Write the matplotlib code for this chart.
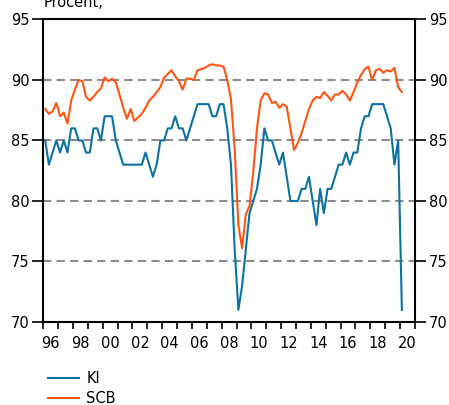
import numpy as np
import matplotlib
matplotlib.use("Agg")
import matplotlib.pyplot as plt
from matplotlib.ticker import FixedLocator, NullFormatter, FixedFormatter

# quarterly data, 1996Q1 - 2020Q1
years = np.arange(1996, 2021)

ki = [85, 83, 84, 85,
      84, 85, 84, 86,
      86, 85, 85, 84,
      84, 86, 86, 85,
      87, 87, 87, 85,
      84, 83, 83, 83,
      83, 83, 83, 84,
      83, 82, 83, 85,
      85, 86, 86, 87,
      86, 86, 85, 86,
      87, 88, 88, 88,
      88, 87, 87, 88,
      88, 86, 83, 76,
      71, 73, 76, 79,
      80, 81, 83, 86,
      85, 85, 84, 83,
      84, 82, 80, 80,
      80, 81, 81, 82,
      80, 78, 81, 79,
      81, 81, 82, 83,
      83, 84, 83, 84,
      84, 86, 87, 87,
      88, 88, 88, 88,
      87, 86, 83, 85,
      71]

scb = [87.6, 87.2, 87.4, 88.1,
       87.0, 87.3, 86.4, 88.3,
       89.2, 90.0, 89.9, 88.6,
       88.3, 88.6, 89.0, 89.3,
       90.2, 89.9, 90.1, 89.8,
       88.8, 87.7, 86.8, 87.6,
       86.6, 86.9, 87.2, 87.7,
       88.3, 88.6, 89.0, 89.4,
       90.2, 90.5, 90.8, 90.3,
       89.9, 89.2, 90.1, 90.1,
       90.0, 90.8, 90.9, 91.0,
       91.2, 91.3, 91.2, 91.2,
       91.1, 90.0, 88.4, 84.3,
       78.0, 76.1, 78.9, 79.6,
       82.4, 86.0, 88.3, 88.9,
       88.8, 88.1, 88.2, 87.7,
       88.0, 87.8, 86.0, 84.2,
       84.8, 85.6, 86.6, 87.6,
       88.3, 88.6, 88.5, 89.0,
       88.7, 88.3, 88.8, 88.8,
       89.1, 88.8, 88.3, 89.0,
       89.8, 90.4, 90.9, 91.1,
       90.0, 90.8, 90.9, 90.6,
       90.8, 90.7, 91.0, 89.4,
       89.0]

year_labels = ["96", "98", "00", "02", "04", "06", "08", "10",
               "12", "14", "16", "18", "20"]

# x position of each quarter (mid-quarter)
quarter_year = np.repeat(years, 4)[:len(ki)]
quarter_num = np.tile([1, 2, 3, 4], len(years))[:len(ki)]
x = quarter_year + (quarter_num - 0.5) / 4

plt.rcParams['font.family'] = ['DejaVu Sans']
plt.rcParams['font.size'] = 10.5

fig = plt.figure(figsize=(4.49, 4.05), dpi=100)
ax = fig.add_axes([0.0965, 0.205, 0.8275, 0.747])

for v in [75, 80, 85, 90]:
    ax.axhline(v, color='#8c8c8c', lw=1.5, ls=(0, (4, 2.5)), zorder=1)

ax.plot(x, ki, color='#0b72a3', lw=1.5, label='KI', zorder=3)
ax.plot(x, scb, color='#ff5511', lw=1.5, label='SCB', zorder=3)

ax.set_xlim(1996, 2021)
ax.set_ylim(70, 95)
ax.set_yticks([70, 75, 80, 85, 90, 95])

# yearly ticks without labels, labels centred in even years
ax.xaxis.set_major_locator(FixedLocator(np.arange(1996, 2022)))
ax.xaxis.set_major_formatter(NullFormatter())
ax.xaxis.set_minor_locator(FixedLocator(np.arange(1996, 2021, 2) + 0.5))
ax.xaxis.set_minor_formatter(FixedFormatter(year_labels))
ax.tick_params(axis='x', which='major', direction='out', length=5, width=1.2)
ax.tick_params(axis='x', which='minor', length=0, pad=10, labelsize=10.5)
ax.tick_params(axis='y', which='major', direction='out', length=8, width=1.2,
               pad=2, right=True, labelright=True)

for s in ax.spines.values():
    s.set_linewidth(1.5)
    s.set_color('black')

fig.text(0.098, 0.983, "Procent,", fontsize=10.5, ha='left', va='baseline')

ax.legend(loc='upper left', bbox_to_anchor=(0.108, 0.083),
          bbox_transform=fig.transFigure, frameon=False,
          handlelength=2.1, labelspacing=0.3, handletextpad=0.5,
          borderpad=0, borderaxespad=0)

fig.savefig("out.png", dpi=100)
